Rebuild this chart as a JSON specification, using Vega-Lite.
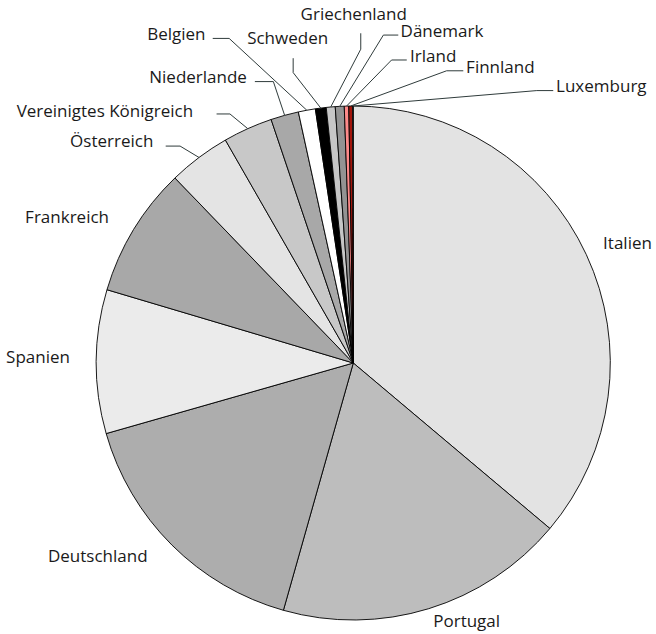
{
  "$schema": "https://vega.github.io/schema/vega-lite/v6.json",
  "width": 656,
  "height": 634,
  "padding": 0,
  "autosize": {"type": "none"},
  "background": "white",
  "config": {
    "view": {"stroke": null},
    "text": {"font": "Open Sans", "fontSize": 17, "color": "#1a1a1a"}
  },
  "datasets": {
    "shares": [
      {"country": "Italien", "share": 36.14},
      {"country": "Portugal", "share": 18.25},
      {"country": "Deutschland", "share": 16.19},
      {"country": "Spanien", "share": 9.03},
      {"country": "Frankreich", "share": 8.19},
      {"country": "Österreich", "share": 3.92},
      {"country": "Vereinigtes Königreich", "share": 3.11},
      {"country": "Niederlande", "share": 1.75},
      {"country": "Belgien", "share": 1.07},
      {"country": "Schweden", "share": 0.68},
      {"country": "Griechenland", "share": 0.56},
      {"country": "Dänemark", "share": 0.56},
      {"country": "Irland", "share": 0.28},
      {"country": "Finnland", "share": 0.24},
      {"country": "Luxemburg", "share": 0.04}
    ],
    "labelLayout": [
      {"country": "Italien", "lx": 0.972, "ly": 0.444},
      {"country": "Portugal", "lx": 0.311, "ly": -1.028},
      {"country": "Deutschland", "lx": -1.188, "ly": -0.773},
      {"country": "Spanien", "lx": -1.351, "ly": -0.001},
      {"country": "Frankreich", "lx": -1.277, "ly": 0.546},
      {"country": "Österreich", "lx": -1.102, "ly": 0.842, "tx": -0.730, "ty": 0.844, "ex": -0.674, "ey": 0.844},
      {"country": "Vereinigtes Königreich", "lx": -1.310, "ly": 0.958, "tx": -0.532, "ty": 0.969, "ex": -0.480, "ey": 0.969},
      {"country": "Niederlande", "lx": -0.794, "ly": 1.088, "tx": -0.383, "ty": 1.095, "ex": -0.311, "ey": 1.095},
      {"country": "Belgien", "lx": -0.802, "ly": 1.257, "tx": -0.547, "ty": 1.263, "ex": -0.483, "ey": 1.263},
      {"country": "Schweden", "lx": -0.413, "ly": 1.241, "tx": -0.234, "ty": 1.186, "ex": -0.234, "ey": 1.130},
      {"country": "Griechenland", "lx": -0.205, "ly": 1.335, "tx": 0.029, "ty": 1.283, "ex": 0.029, "ey": 1.221},
      {"country": "Dänemark", "lx": 0.184, "ly": 1.267, "tx": 0.175, "ty": 1.276, "ex": 0.117, "ey": 1.276},
      {"country": "Irland", "lx": 0.221, "ly": 1.172, "tx": 0.208, "ty": 1.179, "ex": 0.149, "ey": 1.179},
      {"country": "Finnland", "lx": 0.439, "ly": 1.130, "tx": 0.428, "ty": 1.137, "ex": 0.363, "ey": 1.137},
      {"country": "Luxemburg", "lx": 0.789, "ly": 1.056, "tx": 0.778, "ty": 1.060, "ex": 0.714, "ey": 1.060}
    ]
  },
  "layer": [
    {
      "data": {"name": "shares"},
      "transform": [{"window": [{"op": "row_number", "as": "idx"}]}],
      "mark": {"type": "arc", "outerRadius": 257, "stroke": "#000000", "strokeWidth": 0.9},
      "encoding": {
        "x": {"datum": 0, "type": "quantitative", "scale": {"domain": [-1.37471, 1.17782], "zero": false, "nice": false}, "axis": null},
        "y": {"datum": 0, "type": "quantitative", "scale": {"domain": [-1.05447, 1.41245], "zero": false, "nice": false}, "axis": null},
        "theta": {"field": "share", "type": "quantitative", "stack": true},
        "order": {"field": "idx", "type": "quantitative"},
        "color": {
          "field": "country",
          "type": "nominal",
          "legend": null,
          "scale": {
            "domain": ["Italien", "Portugal", "Deutschland", "Spanien", "Frankreich", "Österreich", "Vereinigtes Königreich", "Niederlande", "Belgien", "Schweden", "Griechenland", "Dänemark", "Irland", "Finnland", "Luxemburg"],
            "range": ["#e3e3e3", "#bdbdbd", "#adadad", "#ebebeb", "#a8a8a8", "#e4e4e4", "#c8c8c8", "#a8a8a8", "#ffffff", "#000000", "#c6c6c6", "#939393", "#ff8a8a", "#a3160c", "#ffffff"]
          }
        }
      }
    },
    {
      "data": {"name": "shares"},
      "transform": [
        {"window": [{"op": "sum", "field": "share", "as": "cum"}], "frame": [null, 0]},
        {"joinaggregate": [{"op": "sum", "field": "share", "as": "total"}]},
        {"calculate": "2 * PI * (datum.cum - datum.share / 2) / datum.total", "as": "mid"},
        {"calculate": "sin(datum.mid)", "as": "px"},
        {"calculate": "cos(datum.mid)", "as": "py"},
        {"lookup": "country", "from": {"data": {"name": "labelLayout"}, "key": "country", "fields": ["tx", "ty", "ex", "ey"]}},
        {"filter": "isValid(datum.ex)"}
      ],
      "mark": {"type": "rule", "color": "#2f3b3b", "strokeWidth": 1},
      "encoding": {
        "x": {"field": "ex", "type": "quantitative"},
        "y": {"field": "ey", "type": "quantitative"},
        "x2": {"field": "px"},
        "y2": {"field": "py"}
      }
    },
    {
      "data": {"name": "labelLayout"},
      "transform": [{"filter": "isValid(datum.ex)"}],
      "mark": {"type": "rule", "color": "#2f3b3b", "strokeWidth": 1},
      "encoding": {
        "x": {"field": "tx", "type": "quantitative"},
        "y": {"field": "ty", "type": "quantitative"},
        "x2": {"field": "ex"},
        "y2": {"field": "ey"}
      }
    },
    {
      "data": {"name": "labelLayout"},
      "mark": {"type": "text", "align": "left", "baseline": "alphabetic"},
      "encoding": {
        "x": {"field": "lx", "type": "quantitative"},
        "y": {"field": "ly", "type": "quantitative"},
        "text": {"field": "country"}
      }
    }
  ]
}
